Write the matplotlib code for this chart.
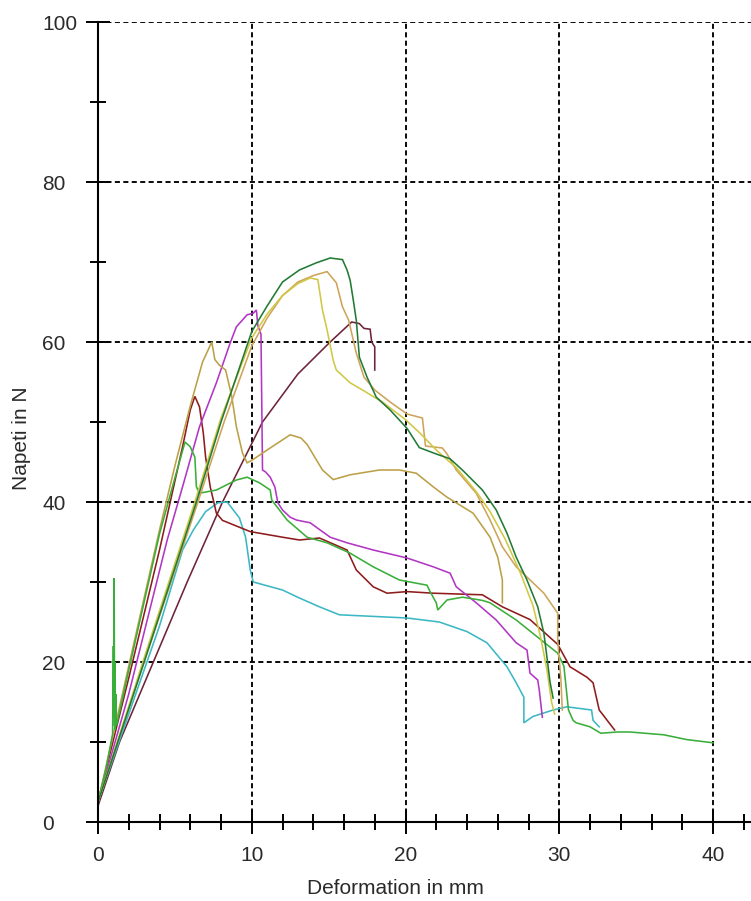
import matplotlib
matplotlib.use("Agg")
import matplotlib.pyplot as plt

plt.rcParams['font.family'] = ['Liberation Sans', 'DejaVu Sans']

# ---------------- data ----------------
x_major = [0, 10, 20, 30, 40]
y_major = [0, 20, 40, 60, 80, 100]
x_label = "Deformation in mm"
y_label = "Napeti in N"

cyan_x = [0, 2, 4, 5.5, 6.2, 7, 7.8, 8.4, 9.2, 9.6, 9.9, 10.1, 12, 13.1, 14.4, 15.7, 20.1, 22.2, 24,
          25.3, 26.6, 27.2, 27.7, 27.7, 28.3, 29.6, 30.5, 32.1, 32.2, 32.6]
cyan_y = [2.5, 13.5, 24.5, 34, 36.5, 38.8, 39.9, 40, 38, 35.6, 31.5, 30, 29, 28, 26.9, 25.9, 25.5, 25, 23.8,
          22.4, 19.4, 17.4, 15.6, 12.4, 13.2, 14, 14.4, 14, 12.7, 11.9]

lgreen_x = [0, 0.5, 0.95, 1.0, 1.02, 1.05, 1.08, 1.1, 1.12, 1.15, 1.2, 2, 3, 4, 5, 5.66, 6.0, 6.3, 6.4, 6.6,
            7.7, 9.0, 9.7, 10.5, 11.2, 11.3, 12.3, 13.6, 14.9, 16.4, 17.9, 19.6, 21.4, 21.6, 22.0, 22.1,
            22.7, 23.7, 25.0, 25.5, 27.2, 28.6, 29.9, 30.3, 30.6, 30.9, 31.1, 32, 32.7, 33.8, 34.6, 36.8,
            38.3, 40]
lgreen_y = [2.5, 6.5, 11, 22, 13, 30.5, 12, 20, 11.5, 16, 12, 19, 27.5, 36, 43, 47.5, 46.9, 45.6, 41.9, 41.1,
            41.5, 42.75, 43.1, 42.4, 41.5, 40.25, 37.75, 35.6, 34.9, 33.6, 31.9, 30.25, 29.6, 28.8, 27.4, 26.5,
            27.75, 28.1, 27.7, 27.4, 25.25, 23.1, 21.1, 19.5, 14, 12.7, 12.4, 11.9, 11.1, 11.25, 11.25, 10.9,
            10.3, 9.9]

dgreen_x = [0, 3, 6.4, 8, 10, 11, 12, 13.1, 14.2, 15.1, 15.9, 16.2, 16.4, 16.6, 16.8, 17, 17.5, 18.1, 19,
            20.1, 20.9, 22, 22.9, 23.7, 25, 25.9, 26.6, 27.2, 27.9, 28.6, 29, 29.2, 29.4, 29.6]
dgreen_y = [2.5, 20, 40, 50, 61.3, 64.5, 67.5, 69, 69.9, 70.5, 70.3, 69, 67.7, 65.3, 62.7, 58.1, 55.6, 53.1,
            51.5, 49.2, 46.8, 46, 45.4, 44, 41.5, 39, 36.1, 33.1, 30.25, 26.9, 23.6, 20.6, 17.5, 15.5]

yellow_x = [0, 3, 6.3, 8, 10, 11, 12, 13, 13.8, 14.3, 14.6, 14.9, 15.3, 15.5, 16.4, 17.2, 18.5, 20, 21, 22,
            22.7, 23.3, 24.6, 25.5, 26.5, 27.5, 28.3, 28.8, 29.2, 29.5, 29.7]
yellow_y = [2.5, 20.5, 40, 50.5, 60.5, 63.5, 65.8, 67.3, 68, 67.8, 64, 61.5, 57.7, 56.5, 54.9, 54, 52.5, 50.3,
            48.5, 46.5, 45.3, 44.3, 41.3, 38.8, 35.3, 31, 27, 23, 19, 15, 13.5]

tan_x = [0, 3, 6.5, 8.2, 10, 11, 12, 13, 14, 14.9, 15.5, 15.9, 16.3, 16.8, 17.3, 18, 19, 20.1, 21.1, 21.3,
         22.4, 22.7, 23.3, 24.6, 25.5, 26.3, 27.2, 28.1, 29, 29.9, 29.9, 30.1, 30.2]
tan_y = [2.5, 20, 40, 50, 59.5, 63, 65.8, 67.5, 68.3, 68.8, 67.4, 64.4, 62.75, 58.6, 55.6, 54, 52.5, 51, 50.5,
         47, 46.75, 46, 44, 41.1, 37.75, 34.4, 31.9, 30.25, 28.6, 26.1, 22.75, 18, 14]

gold_x = [0, 2, 4, 5, 6, 6.8, 7.4, 7.6, 7.9, 8.3, 8.7, 9.0, 9.4, 9.7, 10.0, 11.0, 12.5, 13.2, 13.6, 14.6,
          15.3, 16.4, 18.3, 19.6, 20.7, 21.8, 22.7, 24.4, 25.5, 26.0, 26.3, 26.3]
gold_y = [2.5, 19.5, 36.5, 44.5, 52, 57.5, 60, 57.8, 57.1, 56.5, 53.2, 49.4, 46.1, 44.9, 45.2, 46.5, 48.4,
          48, 47.2, 44, 42.8, 43.4, 44, 44, 43.6, 41.9, 40.6, 38.6, 35.6, 33.1, 30.25, 27.4]

magenta_x = [0, 2, 4.5, 5.5, 6.6, 7.7, 8.6, 9.0, 9.7, 10.1, 10.3, 10.4, 10.6, 10.7, 10.9, 11.2, 11.5, 11.7,
             12.0, 12.5, 12.9, 13.8, 15.1, 16.2, 17.9, 20.1, 21.8, 22.9, 23.3, 24.6, 25.9, 27.2, 27.9, 28.1,
             28.6, 28.7, 28.9]
magenta_y = [2.5, 16, 35.25, 41.9, 49.4, 54.9, 59.9, 61.9, 63.4, 63.6, 64, 62, 61, 44, 43.75, 43.1, 41.9,
             39.9, 39, 38.1, 37.75, 37.4, 35.6, 34.9, 34, 33, 31.9, 31.1, 29.4, 27.4, 25.25, 22.4, 21.5, 18.6,
             17.75, 16.5, 13.1]

dred_x = [0, 2, 4, 5.5, 6.0, 6.3, 6.6, 6.85, 7.0, 7.3, 7.7, 8.1, 9.9, 12.0, 13.1, 14.4, 16.2, 16.8, 17.9,
          18.8, 20.1, 21.8, 25.0, 26.3, 28.1, 29.9, 30.7, 31.8, 32.2, 32.6, 33.6]
dred_y = [2.5, 18, 34, 46.9, 51.5, 53.2, 51.9, 48.6, 45.6, 41.9, 38.6, 37.7, 36.3, 35.6, 35.25, 35.5, 34,
          31.5, 29.4, 28.6, 28.8, 28.6, 28.4, 26.9, 25.3, 22.2, 19.4, 18.1, 17.4, 14, 11.5]

maroon_x = [0, 1.4, 3.6, 5.8, 8.1, 10.7, 13, 15.1, 16.5, 17, 17.3, 17.7, 17.8, 18, 18]
maroon_y = [2, 10, 20, 30, 40, 50, 56, 60, 62.5, 62.3, 61.7, 61.6, 60, 59.4, 56.5]

series = [
    (maroon_x, maroon_y, "#6e2438"),
    (cyan_x, cyan_y, "#3cb8c4"),
    (dred_x, dred_y, "#8e1c1c"),
    (magenta_x, magenta_y, "#b236c4"),
    (gold_x, gold_y, "#bca048"),
    (lgreen_x, lgreen_y, "#3aae3a"),
    (tan_x, tan_y, "#cfa45a"),
    (yellow_x, yellow_y, "#cfc844"),
    (dgreen_x, dgreen_y, "#237a35"),
]

# ---------------- figure ----------------
W, H = 751, 901
fig = plt.figure(figsize=(W / 100, H / 100), dpi=100)
ax = fig.add_axes([98 / W, 79 / H, 653 / W, 800 / H])

for xs, ys, c in series:
    ax.plot(xs, ys, color=c, linewidth=1.15, solid_joinstyle='miter')

ax.set_xlim(0, 653 / 15.375)
ax.set_ylim(0, 100)
for s in ['top', 'right']:
    ax.spines[s].set_visible(False)
for s in ['left', 'bottom']:
    ax.spines[s].set_linewidth(1.5)
    ax.spines[s].set_color('black')

ax.set_xticks(x_major)
ax.set_xticks([v for v in range(0, 43, 2) if v % 10 != 0], minor=True)
ax.set_yticks(y_major)
ax.set_yticks([10, 30, 50, 70, 90], minor=True)
ax.set_xticklabels([str(v) for v in x_major])
ax.set_yticklabels([str(v) for v in y_major])

ax.tick_params(axis='both', which='major', direction='inout', length=17, width=1.4,
               color='black', labelsize=15, labelcolor='#2a2a2a')
ax.tick_params(axis='both', which='minor', direction='inout', length=11, width=1.4, color='black')
ax.tick_params(axis='x', which='major', pad=8.5)
ax.tick_params(axis='y', which='major', pad=31.5)
for lab in ax.get_yticklabels():
    lab.set_horizontalalignment('left')

ax.grid(True, which='major', color='black', linestyle=(0, (2.7, 1.8)), linewidth=1.35)

fig.text(22 / W, 1 - 438 / H, y_label, rotation=90, ha='center', va='center',
         fontsize=15, color='#2a2a2a')
fig.text(395 / W, 1 - 889 / H, x_label, ha='center', va='center',
         fontsize=15, color='#2a2a2a')

fig.savefig("out.png", dpi=100, facecolor='white')
